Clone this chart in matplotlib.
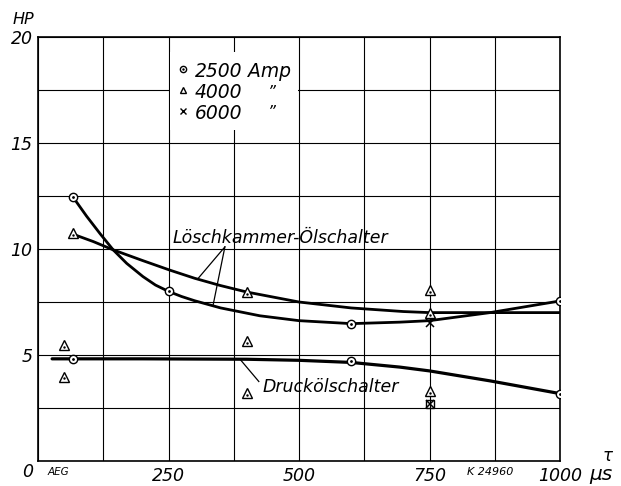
import matplotlib
matplotlib.use("Agg")
import matplotlib.pyplot as plt
from matplotlib.patches import Rectangle
import numpy as np

# curves (tau in microseconds, HP)
loesch_a_x = [67, 93, 119, 144, 170, 201, 225, 250, 275, 300, 350, 425, 500, 600, 693, 750, 866, 1000]
loesch_a_y = [12.45, 11.55, 10.72, 9.96, 9.32, 8.7, 8.3, 8.0, 7.76, 7.56, 7.22, 6.85, 6.62, 6.48, 6.55, 6.62, 7.0, 7.55]
loesch_b_x = [67, 106, 144, 201, 253, 300, 349, 400, 500, 600, 700, 750, 1000]
loesch_b_y = [10.7, 10.35, 9.96, 9.45, 9.0, 8.62, 8.28, 7.97, 7.5, 7.22, 7.05, 7.0, 7.0]
druck_x = [27, 200, 400, 500, 600, 693, 750, 866, 1000]
druck_y = [4.82, 4.82, 4.8, 4.75, 4.65, 4.43, 4.25, 3.78, 3.18]

# measured points
amp2500_x = [67, 250, 600, 1000, 67, 600, 1000]
amp2500_y = [12.45, 8.0, 6.48, 7.55, 4.82, 4.72, 3.17]
amp4000_x = [67, 50, 50, 400, 400, 400, 750, 750, 750]
amp4000_y = [10.75, 5.45, 3.98, 7.95, 5.67, 3.2, 8.05, 6.97, 3.3]
amp6000_x = [750, 750]
amp6000_y = [6.53, 2.7]

x_major = [250, 500, 750, 1000]
y_major = [5, 10, 15, 20]

legend_labels = ["2500", "4000", "6000"]
legend_y = [18.5, 17.5, 16.53]

fs = 12.5
ital = dict(fontstyle="italic", family="DejaVu Sans")

fig = plt.figure(figsize=(6.21, 4.86), dpi=100)
ax = fig.add_axes([0.0612, 0.0514, 0.8406, 0.8725])
ax.set_xlim(0, 1000)
ax.set_ylim(0, 20)

ax.set_xticks(x_major)
ax.set_xticks(np.arange(0, 1001, 125), minor=True)
ax.set_yticks(y_major)
ax.set_yticks(np.arange(0, 20.1, 2.5), minor=True)
ax.set_xticklabels([str(v) for v in x_major], fontsize=fs, **ital)
ax.set_yticklabels([str(v) for v in y_major], fontsize=fs, **ital)
ax.tick_params(which="both", length=0, pad=4)
ax.grid(True, which="both", color="black", lw=0.8)
ax.set_axisbelow(True)
for sp in ax.spines.values():
    sp.set_linewidth(1.2)

# white box behind the legend
ax.add_patch(Rectangle((252, 15.6), 246, 3.7, facecolor="white", edgecolor="none", zorder=1))

ax.plot(loesch_a_x, loesch_a_y, color="black", lw=2.0, zorder=3, solid_capstyle="round", solid_joinstyle="round")
ax.plot(loesch_b_x, loesch_b_y, color="black", lw=2.0, zorder=3, solid_capstyle="round", solid_joinstyle="round")
ax.plot(druck_x, druck_y, color="black", lw=2.3, zorder=3, solid_capstyle="round", solid_joinstyle="round")

ax.plot(amp2500_x, amp2500_y, "o", ms=6, mfc="white", mec="black", mew=1.0, zorder=4)
ax.plot(amp2500_x, amp2500_y, ".", ms=2, color="black", zorder=5)
ax.plot(amp4000_x, amp4000_y, "^", ms=6.5, mfc="white", mec="black", mew=1.0, zorder=4)
ax.plot(amp4000_x, np.array(amp4000_y) - 0.08, ".", ms=1.5, color="black", zorder=5)
ax.plot(amp6000_x, amp6000_y, "x", ms=6, color="black", mew=1.1, zorder=4)
ax.plot(amp6000_x[1:], amp6000_y[1:], "s", ms=5.5, mfc="none", mec="black", mew=1.0, zorder=4)

# legend
ax.plot(278, legend_y[0], "o", ms=4.5, mfc="white", mec="black", mew=1.0, zorder=4)
ax.plot(278, legend_y[0], ".", ms=1.5, color="black", zorder=5)
ax.plot(278, legend_y[1], "^", ms=5, mfc="white", mec="black", mew=1.0, zorder=4)
ax.plot(278, legend_y[2], "x", ms=4.5, color="black", mew=1.0, zorder=4)
for lab, y in zip(legend_labels, legend_y):
    ax.text(300, y - 0.38, lab, fontsize=13.5, va="baseline", ha="left", zorder=6, **ital)
ax.text(402, legend_y[0] - 0.38, "Amp", fontsize=13.5, va="baseline", ha="left", zorder=6, **ital)
for y in legend_y[1:]:
    ax.text(441, y - 0.1, "\u201d", fontsize=11, va="center", ha="left", zorder=6, **ital)

# curve labels and leader lines
ax.text(257, 10.29, "Löschkammer-Ölschalter", fontsize=fs, va="baseline", ha="left", zorder=6, **ital)
ax.plot([358, 307], [10.1, 8.62], color="black", lw=0.9, zorder=3)
ax.plot([358, 335], [10.1, 7.3], color="black", lw=0.9, zorder=3)
ax.text(431, 3.26, "Druckölschalter", fontsize=fs, va="baseline", ha="left", zorder=6, **ital)
ax.plot([387, 423], [4.8, 3.75], color="black", lw=0.9, zorder=3)

# extra annotations outside axes
fig.text(0.044, 0.029, "0", fontsize=fs, ha="center", va="center", **ital)
fig.text(0.076, 0.029, "AEG", fontsize=7.5, ha="left", va="center", **ital)
fig.text(0.752, 0.029, "K 24960", fontsize=8, ha="left", va="center", **ital)
fig.text(0.968, 0.024, "\u03bcs", fontsize=14.5, ha="center", va="center", **ital)
fig.text(0.979, 0.062, "\u03c4", fontsize=12, ha="center", va="center", **ital)
fig.text(0.037, 0.959, "HP", fontsize=11.5, ha="center", va="center", **ital)

fig.savefig("out.png", dpi=100)
